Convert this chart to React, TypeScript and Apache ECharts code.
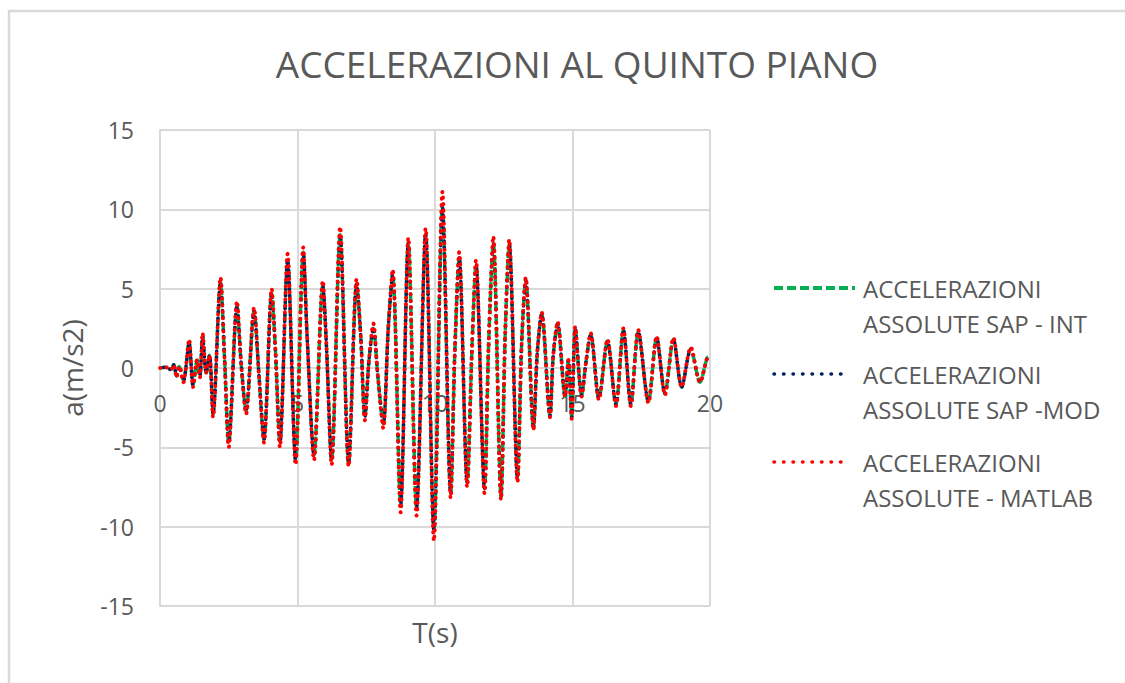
import React, { useEffect, useRef } from "react";
import * as echarts from "echarts";

const titleText = "ACCELERAZIONI AL QUINTO PIANO";
const xName = "T(s)";
const yName = "a(m/s2)";
const seriesNames = [
  "ACCELERAZIONI\nASSOLUTE SAP - INT",
  "ACCELERAZIONI\nASSOLUTE SAP -MOD",
  "ACCELERAZIONI\nASSOLUTE - MATLAB",
];

// time instants (s) of the read peaks / valleys / crossings
const times = [
  0, 0.2, 0.4, 0.5, 0.6, 0.7, 0.85, 1.06, 1.2, 1.35, 1.45, 1.55, 1.68, 1.8, 1.93,
  2.2, 2.35, 2.5, 2.8, 2.95, 3.13, 3.42, 3.6, 3.78, 4.06, 4.2, 4.36, 4.64, 4.93,
  5.21, 5.35, 5.6, 5.92, 6.05, 6.24, 6.55, 6.86, 7.15, 7.3, 7.45, 7.6, 7.76, 7.92,
  8.12, 8.3, 8.46, 8.75, 9.03, 9.33, 9.66, 9.96, 10.27, 10.57, 10.72, 10.88, 11.17,
  11.35, 11.49, 11.8, 11.95, 12.12, 12.4, 12.55, 12.7, 13.0, 13.15, 13.3, 13.58,
  13.72, 13.88, 14.18, 14.3, 14.46, 14.73, 14.85, 14.97, 15.1, 15.33, 15.5, 15.66,
  15.96, 16.27, 16.58, 16.85, 17.12, 17.39, 17.76, 18.06, 18.36, 18.67, 18.97,
  19.3, 19.64, 19.94, 20,
];

// SAP - INT (m/s2)
const sapInt = [
  0, 0.05, -0.1, 0.2, -0.5, 0.1, -0.8, 1.6, -1.1, 0.5, -0.5, 2.0, -0.3, 0.8, -2.9,
  5.4, 0.5, -4.7, 3.9, 0.3, -2.7, 3.6, -0.5, -4.5, 4.7, 1.0, -4.7, 6.8, -5.8,
  7.3, 2.0, -5.5, 5.2, 1.5, -5.8, 8.4, -6.0, 5.3, 2.0, -3.1, 0.5, 2.5, -0.5,
  -3.5, 2.5, 5.9, -8.6, 7.9, -8.8, 8.4, -10.2, 10.2, -7.9, 1.0, 7.0, -7.2,
  1.5, 6.5, -7.6, 1.5, 7.9, -8.1, 2.0, 7.8, -6.9, 1.5, 5.6, -3.8,
  1.0, 3.4, -3.0, 0.8, 2.8, -1.8, 0.5, -3.1, 2.5, -1.7, 0.5, 2.1,
  -1.9, 1.7, -2.3, 2.4, -2.3, 2.3, -2.1, 1.9, -1.6, 1.8, -1.2,
  1.2, -0.9, 0.7, 0.6,
];

// SAP - MOD (m/s2)
const sapMod = [
  0, 0.05, -0.1, 0.2, -0.5, 0.1, -0.8, 1.6, -1.1, 0.5, -0.5, 2.0, -0.3, 0.8, -2.9,
  5.4, 0.5, -4.7, 3.9, 0.3, -2.7, 3.6, -0.5, -4.5, 4.7, 1.0, -4.7, 6.8, -5.8,
  7.3, 2.0, -5.5, 5.2, 1.5, -5.8, 8.4, -6.0, 5.3, 2.0, -3.1, 0.5, 2.5, -0.5,
  -3.5, 2.5, 5.9, -8.6, 7.9, -8.8, 8.4, -10.2, 10.1, -7.9, 1.0, 7.0, -7.2,
  1.5, 6.5, -7.6, 1.5, 7.9, -8.1, 2.0, 7.8, -6.9, 1.5, 5.5, -3.8,
  1.0, 3.4, -3.0, 0.8, 2.8, -1.8, 0.5, -3.1, 2.5, -1.7, 0.5, 2.1,
  -1.9, 1.7, -2.3, 2.4, -2.3, 2.3, -2.1, 1.9, -1.6, 1.8, -1.2,
  1.2, -0.9, 0.7, 0.6,
];

// MATLAB (m/s2)
const matlab = [
  0, 0.05, -0.1, 0.2, -0.6, 0.1, -0.9, 1.8, -1.2, 0.5, -0.6, 2.2, -0.3, 0.8, -3.1,
  5.7, 0.5, -5.0, 4.2, 0.3, -2.9, 3.8, -0.5, -4.7, 5.0, 1.0, -5.0, 7.2, -6.1,
  7.6, 2.0, -5.8, 5.5, 1.5, -6.1, 8.9, -6.2, 5.6, 2.0, -3.3, 0.5, 2.8, -0.5,
  -3.8, 2.5, 6.2, -9.1, 8.2, -9.3, 8.8, -10.9, 11.1, -8.2, 1.0, 7.3, -7.5,
  1.5, 6.8, -7.9, 1.5, 8.3, -8.3, 2.0, 8.1, -7.2, 1.5, 5.7, -3.9,
  1.0, 3.5, -3.1, 0.8, 2.9, -1.8, 0.5, -3.2, 2.6, -1.8, 0.5, 2.2,
  -2.0, 1.8, -2.4, 2.5, -2.4, 2.4, -2.2, 2.0, -1.7, 1.9, -1.2,
  1.3, -0.9, 0.7, 0.6,
];

const xTicks = [0, 5, 10, 15, 20];
const yTicks = [-15, -10, -5, 0, 5, 10, 15];

const colors = ["#00B050", "#002060", "#FF0000"];
const FONT = "'Open Sans', 'Noto Sans', sans-serif";
const TEXT = "#595959";
const GRID = "#D9D9D9";

export default function App() {
  const ref = useRef<HTMLDivElement>(null);
  useEffect(() => {
    if (!ref.current) return;
    const chart = echarts.init(ref.current, null, { renderer: "svg" });
    const pairs = (vals: number[]) => times.map((t, i) => [t, vals[i]]);
    const lineStyles = [
      { color: colors[0], width: 3.5, type: [8, 4] as any, cap: "butt" },
      { color: colors[1], width: 3.5, type: [0.5, 6] as any, cap: "round", dashOffset: 3 },
      { color: colors[2], width: 3.8, type: [0.5, 6] as any, cap: "round" },
    ];
    const dataSets = [sapInt, sapMod, matlab];

    const legendGraphics: any[] = [];
    const legendY = [288, 374, 462];
    seriesNames.forEach((name, i) => {
      const ls = lineStyles[i];
      legendGraphics.push({
        type: "line",
        shape: { x1: 774, y1: legendY[i], x2: i === 0 ? 855 : 850, y2: legendY[i] },
        style: {
          stroke: ls.color,
          lineWidth: i === 0 ? 4 : 3.5,
          lineDash: i === 0 ? [9, 4] : [0.5, 9],
          lineCap: i === 0 ? "butt" : "round",
        },
      });
      legendGraphics.push({
        type: "text",
        x: 863,
        y: legendY[i] - 17,
        style: {
          text: name,
          fill: TEXT,
          fontSize: 24,
          fontFamily: FONT,
          lineHeight: 35,
          verticalAlign: "top",
        },
      });
    });

    chart.setOption({
      animation: false,
      backgroundColor: "#ffffff",
      title: {
        text: titleText,
        left: 572,
        top: 40,
        textAlign: "center",
        textStyle: { color: TEXT, fontSize: 37, fontWeight: "normal", fontFamily: FONT },
      },
      grid: { left: 160, right: 415, top: 130, bottom: 77, containLabel: false, outerBoundsMode: "none" },
      xAxis: {
        type: "value",
        position: "bottom",
        offset: -238,
        min: xTicks[0],
        max: xTicks[xTicks.length - 1],
        interval: 5,
        axisLine: { onZero: false, lineStyle: { color: GRID, width: 2 } },
        axisTick: { show: false },
        axisLabel: { color: TEXT, fontSize: 23, fontFamily: FONT, margin: 23 },
        splitLine: { show: true, lineStyle: { color: GRID, width: 2 } },
      },
      yAxis: {
        type: "value",
        min: yTicks[0],
        max: yTicks[yTicks.length - 1],
        interval: 5,
        name: yName,
        nameLocation: "middle",
        nameGap: 74,
        nameRotate: 90,
        nameTextStyle: { color: TEXT, fontSize: 28, fontFamily: FONT },
        axisLine: { show: true, lineStyle: { color: GRID, width: 2 } },
        axisTick: { show: false },
        axisLabel: { color: TEXT, fontSize: 23, fontFamily: FONT, margin: 26 },
        splitLine: { show: true, lineStyle: { color: GRID, width: 2 } },
      },
      series: seriesNames.map((name, i) => ({
        name,
        type: "line",
        data: pairs(dataSets[i]),
        showSymbol: false,
        symbol: "none",
        smooth: 0.3,
        lineStyle: lineStyles[i],
        z: 2 + i,
      })),
      graphic: [
        {
          type: "rect",
          shape: { x: 9, y: 11, width: 1200, height: 760 },
          style: { fill: "none", stroke: GRID, lineWidth: 2.5 },
          silent: true,
        },
        {
          type: "text",
          x: 435,
          y: 632,
          style: {
            text: xName,
            fill: TEXT,
            fontSize: 28,
            fontFamily: FONT,
            align: "center",
            verticalAlign: "middle",
          },
        },
        ...legendGraphics,
      ],
    });
    return () => chart.dispose();
  }, []);
  return (
    <div
      ref={ref}
      style={{ position: "absolute", left: 0, top: 0, width: 1125, height: 683, background: "#fff" }}
    />
  );
}
